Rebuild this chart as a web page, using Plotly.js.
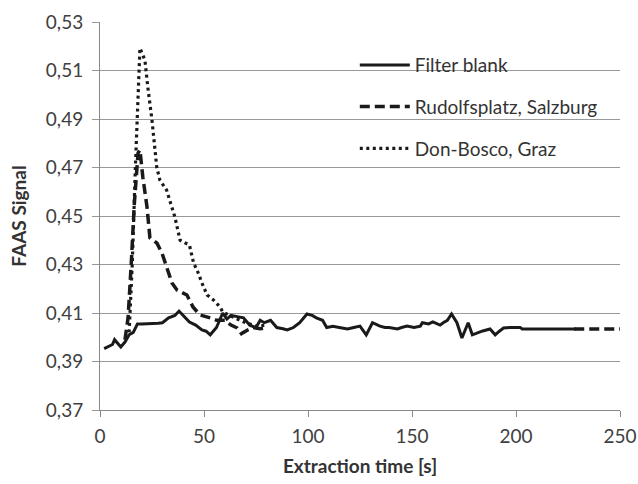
<!DOCTYPE html>
<html>
<head>
<meta charset="utf-8">
<script src="https://cdn.plot.ly/plotly-3.0.1.min.js"></script>
<style>html,body{margin:0;padding:0;background:#fff;}#chart{width:638px;height:484px;}</style>
</head>
<body>
<div id="chart"></div>
<script>
// Filter blank (solid)
const blankTime = [2, 4, 6, 7, 9, 10, 12, 14, 16, 18, 20, 24, 28, 30, 33, 36, 38, 40, 43, 46, 49, 51, 53, 56, 59, 61, 63, 66, 69, 72, 75, 77, 79, 82, 85, 88, 90, 93, 96, 99.5, 102, 104, 107, 109, 112, 115, 119, 122, 125, 128, 131, 134.6, 137, 139, 143, 145, 147.6, 151, 154, 155, 158, 160, 163.5, 165, 167, 169, 171.6, 174, 177, 179, 182, 184, 187.5, 190, 192, 194, 197, 200, 202, 203, 229];
const blankVal  = [0.3953, 0.396, 0.397, 0.399, 0.397, 0.396, 0.398, 0.401, 0.402, 0.4055, 0.4055, 0.4055, 0.4058, 0.406, 0.408, 0.409, 0.4108, 0.409, 0.4063, 0.405, 0.403, 0.4025, 0.401, 0.404, 0.410, 0.4075, 0.409, 0.4085, 0.408, 0.405, 0.404, 0.407, 0.406, 0.407, 0.404, 0.4035, 0.403, 0.404, 0.406, 0.4096, 0.409, 0.408, 0.407, 0.404, 0.4045, 0.404, 0.4034, 0.404, 0.4046, 0.401, 0.406, 0.4046, 0.404, 0.404, 0.4034, 0.404, 0.4046, 0.404, 0.4046, 0.406, 0.4055, 0.4063, 0.405, 0.406, 0.407, 0.4096, 0.406, 0.3997, 0.406, 0.401, 0.402, 0.4026, 0.4034, 0.401, 0.4025, 0.4038, 0.404, 0.404, 0.404, 0.4034, 0.4034];

// Rudolfsplatz, Salzburg (dashed)
const rudTime = [12, 13.5, 15, 16.5, 18.3, 19.2, 20.6, 22.6, 24, 27.4, 29.8, 32, 34.6, 37, 41.8, 44.7, 48, 53, 56, 60, 63, 66, 68, 71, 73.6, 77, 80, 82, 228, 250];
const rudVal  = [0.399, 0.408, 0.43, 0.455, 0.476, 0.4772, 0.466, 0.4537, 0.441, 0.4388, 0.4347, 0.429, 0.4224, 0.4195, 0.4174, 0.4125, 0.4092, 0.408, 0.407, 0.407, 0.405, 0.4038, 0.4015, 0.403, 0.404, 0.4035, 0.404, null, 0.4034, 0.4034];

// Don-Bosco, Graz (dotted)
const donTime = [14, 15.5, 17, 18.3, 19.2, 20.3, 21.6, 23, 25, 27.3, 28.8, 32, 36, 38.5, 41, 43, 45, 47, 49, 51.5, 54.5, 57.7, 59, 62, 66, 70, 75.5, 80];
const donVal  = [0.402, 0.43, 0.47, 0.505, 0.5192, 0.517, 0.5142, 0.503, 0.4895, 0.470, 0.4648, 0.4607, 0.4496, 0.440, 0.4388, 0.438, 0.4306, 0.427, 0.4224, 0.4174, 0.4154, 0.4125, 0.4104, 0.409, 0.4075, 0.406, 0.4045, 0.405];

const seriesNames = ['Filter blank', 'Rudolfsplatz, Salzburg', 'Don-Bosco, Graz'];
const xTicks = [0, 50, 100, 150, 200, 250];

const traces = [
  {x: donTime, y: donVal, name: seriesNames[2], mode: 'lines', legendgroup: 'c', legendrank: 3,
   line: {color: '#1a1a1a', width: 3.2, dash: '3px,3.5px'}},
  {x: rudTime, y: rudVal, name: seriesNames[1], mode: 'lines', legendgroup: 'b', legendrank: 2, connectgaps: false,
   line: {color: '#1a1a1a', width: 3.5, dash: '10px,5px'}},
  {x: blankTime, y: blankVal, name: seriesNames[0], mode: 'lines', legendgroup: 'a', legendrank: 1,
   line: {color: '#1a1a1a', width: 3}}
];

const fontFam = 'Lato, "Open Sans", sans-serif';
const layout = {
  width: 638, height: 484,
  margin: {l: 100, r: 18, t: 22, b: 74},
  paper_bgcolor: '#fff', plot_bgcolor: '#fff',
  separators: ',.',
  font: {family: fontFam, size: 19, color: '#404040'},
  showlegend: true,
  legend: {x: 0.49, y: 0.938, xanchor: 'left', yanchor: 'top', bgcolor: 'rgba(0,0,0,0)', itemwidth: 50,
           traceorder: 'grouped', tracegroupgap: 14, font: {family: fontFam, size: 19, color: '#333'}},
  xaxis: {range: [0, 250], tickvals: xTicks, ticks: 'outside', ticklen: 6, tickcolor: '#888', ticklabelstandoff: 3,
          showline: true, linecolor: '#888', linewidth: 1, showgrid: false, zeroline: false,
          tickfont: {size: 19, color: '#404040'},
          title: {text: 'Extraction time [s]', font: {size: 19, color: '#333', weight: 'bold'}, standoff: 13}},
  yaxis: {range: [0.37, 0.53], dtick: 0.02, tick0: 0.37, tickformat: '.2f', ticks: 'outside', ticklen: 7, tickcolor: '#999',
          ticklabelstandoff: 5,
          showline: true, linecolor: '#888', linewidth: 1, showgrid: true, gridcolor: '#999', gridwidth: 1,
          zeroline: false, tickfont: {size: 19, color: '#404040'},
          title: {text: 'FAAS Signal', font: {size: 19, color: '#333', weight: 'bold'}, standoff: 14}}
};

Plotly.newPlot('chart', traces, layout, {displayModeBar: false, staticPlot: true});
</script>
</body>
</html>
